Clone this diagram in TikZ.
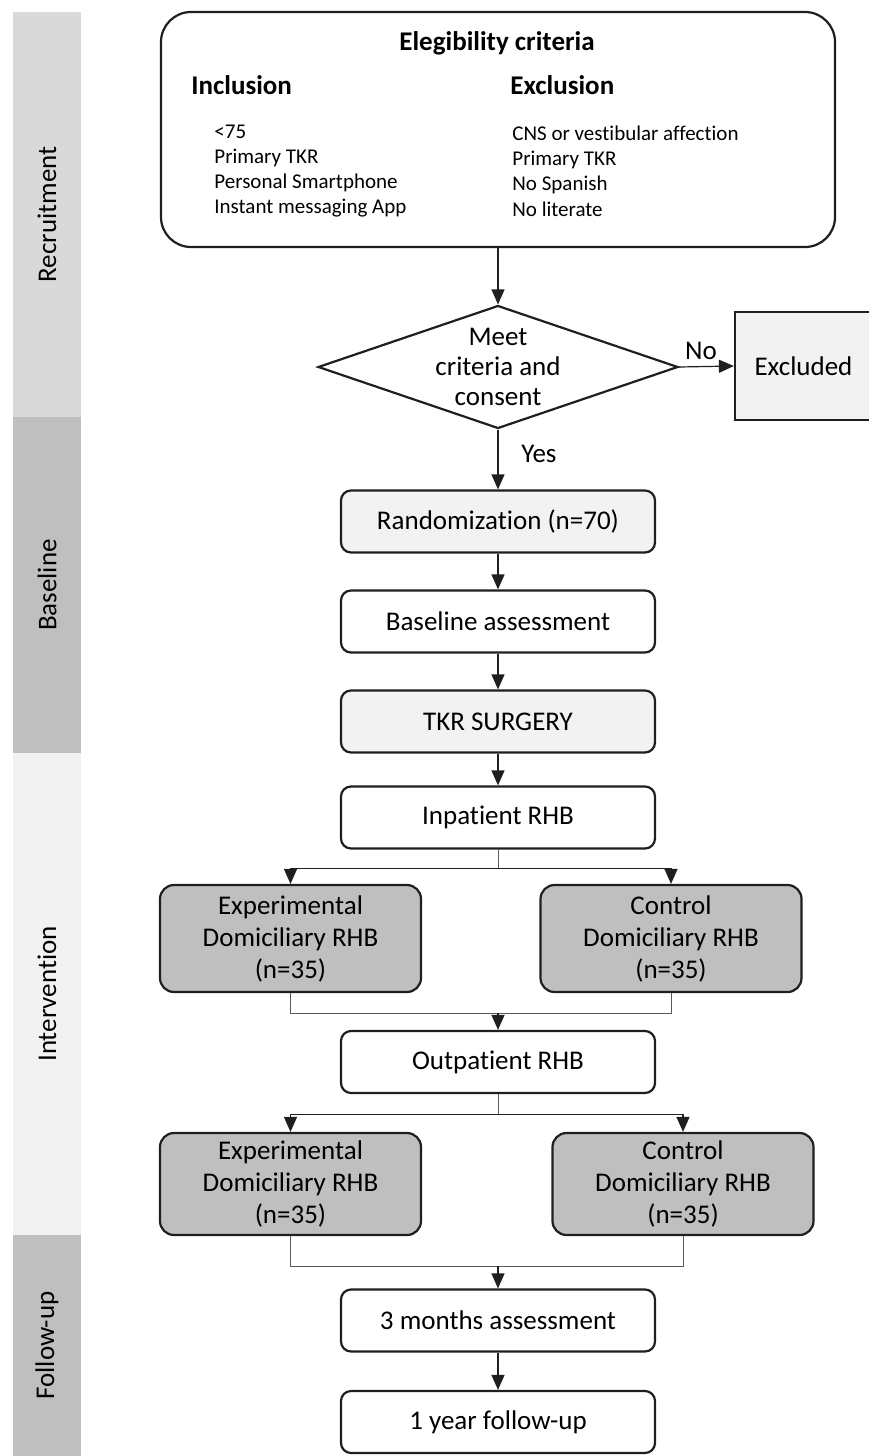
\documentclass[tikz,border=0pt]{standalone}
\usepackage{fontspec}
\setmainfont{Carlito}[Ligatures=NoCommon]
\usetikzlibrary{arrows.meta,shapes.geometric}

\definecolor{lgray}{HTML}{F2F2F2}
\definecolor{mgray}{HTML}{D9D9D9}
\definecolor{dgray}{HTML}{BFBFBF}
\definecolor{edge}{HTML}{1F1F1F}

\begin{document}
\begin{tikzpicture}[x=0.5pt, y=-0.5pt, node distance=50pt, font=\fontsize{13.5}{16}\selectfont,
    main/.style = {draw=edge, line width=1.1pt, rounded corners=5pt, minimum width=157pt, minimum height=31pt},
    grp/.style = {draw=edge, line width=1.1pt, rounded corners=7pt, fill=dgray, minimum width=130.5pt, align=center, font=\fontsize{13.5}{16}\selectfont},
    dec/.style = {draw=edge, line width=1.1pt, diamond, inner sep=0pt, minimum width=180pt, minimum height=61.5pt},
    ar/.style = {draw=edge, line width=0.6pt, -{Triangle[width=6.5pt,length=7.5pt]}},
    ln/.style = {draw=gray!70!black, line width=0.5pt}]
    \useasboundingbox (0,0) rectangle (868,1456);

    % phase bands
    \fill[mgray] (13,12) rectangle (81,417);
    \fill[dgray] (13,417) rectangle (81,753);
    \fill[lgray] (13,753) rectangle (81,1235);
    \fill[dgray] (13,1235) rectangle (81,1456);
    \node[rotate=90] (p1) at (47,214.5) {Recruitment};
    \node[rotate=90] (p2) at (47,585) {Baseline};
    \node[rotate=90] (p3) at (47,994) {Intervention};
    \node[rotate=90] (p4) at (47,1345.5) {Follow-up};

    % criteria
    \node[draw=edge, line width=1.1pt, rounded corners=15pt, minimum width=337pt, minimum height=117.5pt] (1) at (498,129.5) {};
    \node[font=\bfseries\fontsize{13.5}{16}\selectfont] (1a) at (497,43) {Elegibility criteria};
    \node[anchor=west, inner sep=0pt, font=\bfseries\fontsize{13.5}{16}\selectfont] (1b) at (191,85) {Inclusion};
    \node[anchor=west, inner sep=0pt, font=\bfseries\fontsize{13.5}{16}\selectfont] (1c) at (510,85) {Exclusion};
    \node[anchor=west, inner sep=0pt, align=left, font=\fontsize{10.5}{12.6}\selectfont] (1d) at (214,171)
        {<75\\Primary TKR\\Personal Smartphone\\Instant messaging App};
    \node[anchor=west, inner sep=0pt, align=left, font=\fontsize{10.5}{12.6}\selectfont] (1e) at (512,171)
        {CNS or vestibular affection\\Primary TKR\\No Spanish\\No literate};

    \node[dec, label={[align=center, font=\fontsize{13.5}{15}\selectfont]center:Meet\\criteria and\\consent}] (2) at (498,367) {};
    \node[draw=edge, line width=1.1pt, fill=lgray, minimum width=68.5pt, minimum height=54pt] (3) at (803.5,366) {Excluded};

    \node[main, fill=lgray] (4) at (498,521.5) {Randomization (n=70)};
    \node[main] (5) [below of=4] {Baseline assessment};
    \node[main, fill=lgray] (6) [below of=5] {TKR SURGERY};
    \node[main] (7) [below of=6, node distance=48pt] {Inpatient RHB};

    \node[grp, minimum height=53.5pt] (8) at (290.5,938.5) {Experimental\\Domiciliary RHB\\(n=35)};
    \node[grp, minimum height=53.5pt] (9) at (671,938.5) {Control\\Domiciliary RHB\\(n=35)};
    \node[main] (10) at (498,1062) {Outpatient RHB};
    \node[grp, minimum height=51pt] (11) at (290.5,1184) {Experimental\\Domiciliary RHB\\(n=35)};
    \node[grp, minimum height=51pt] (12) at (683,1184) {Control\\Domiciliary RHB\\(n=35)};
    \node[main] (13) at (498,1320.5) {3 months assessment};
    \node[main] (14) at (498,1422) {1 year follow-up};

    \draw[ar] (1.south) -- (2.north);
    \draw[ar] (2.east) -- node[above, pos=0.4] {No} (3.west);
    \draw[ar] (2.south) -- node[right, pos=0.4, xshift=8pt] {Yes} (4.north);
    \draw[ar] (4) -- (5);
    \draw[ar] (5) -- (6);
    \draw[ar] (6) -- (7);

    \draw[ln] (7.south) -- ++(0,19) coordinate (b1);
    \draw[ar] (b1) -| (8.north);
    \draw[ar] (b1) -| (9.north);
    \draw[ln] (8.south) -- ++(0,20) coordinate (m1) -| (9.south);
    \draw[ar] (m1 -| 10.north) -- (10.north);

    \draw[ln] (10.south) -- ++(0,20) coordinate (b2);
    \draw[ar] (b2) -| (11.north);
    \draw[ar] (b2) -| (12.north);
    \draw[ln] (11.south) -- ++(0,30) coordinate (m2) -| (12.south);
    \draw[ar] (m2 -| 13.north) -- (13.north);
    \draw[ar] (13) -- (14);
\end{tikzpicture}
\end{document}
